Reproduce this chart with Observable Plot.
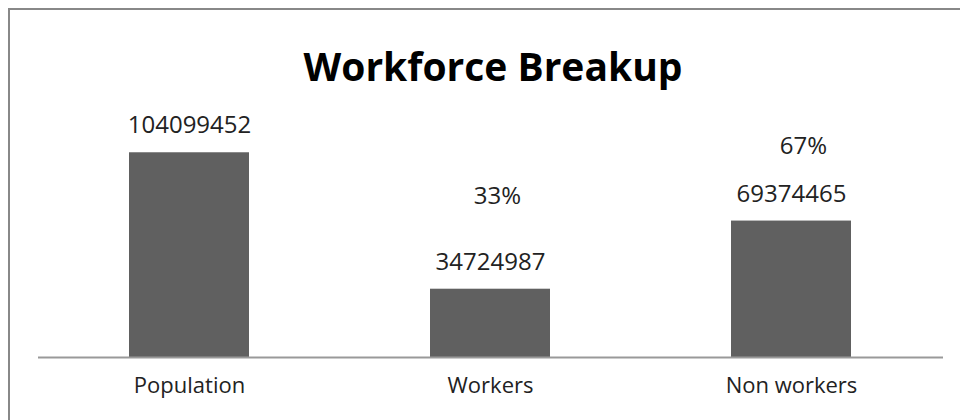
<!DOCTYPE html>
<html>
<head>
<meta charset="utf-8">
<script src="https://cdn.jsdelivr.net/npm/d3@7"></script>
<script src="https://cdn.jsdelivr.net/npm/@observablehq/plot@0.6"></script>
<style>
  html, body { margin: 0; padding: 0; background: #fff; }
  #wrap { position: relative; width: 960px; height: 420px; overflow: hidden; background: #fff; }
  #frame { position: absolute; left: 8px; top: 8px; width: 1000px; height: 500px; border: 2px solid #888; box-sizing: border-box; }
  #title { position: absolute; left: 243px; width: 500px; top: 46px; text-align: center;
           font: 700 39px/39px "Open Sans", sans-serif; color: #000; margin: 0; }
  #chart { position: absolute; left: 0; top: 0; }
</style>
</head>
<body>
<div id="wrap">
  <div id="frame"></div>
  <div id="chart"></div>
  <h1 id="title">Workforce Breakup</h1>
</div>
<script>
const categories = ["Population", "Workers", "Non workers"];
const values = [104099452, 34724987, 69374465];
const percentLabels = ["", "33%", "67%"];

const data = categories.map((c, i) => ({category: c, value: values[i], pct: percentLabels[i]}));

const textStyle = {fontSize: 24, fill: "#222", fontFamily: "Open Sans"};

const chart = Plot.plot({
  width: 960,
  height: 420,
  marginTop: 121,
  marginBottom: 63,
  marginLeft: 38,
  marginRight: 17,
  x: {domain: categories, paddingInner: 0.6, paddingOuter: 0.3},
  y: {domain: [0, 120000000], axis: null},
  style: {fontFamily: "Open Sans", fontSize: "24px", color: "#222", background: "transparent"},
  marks: [
    Plot.barY(data, {x: "category", y: "value", fill: "#606060"}),
    Plot.ruleY([0], {stroke: "#999", strokeWidth: 2}),
    Plot.axisX({tickSize: 0, tickPadding: 20, fontSize: 22, label: null, fill: "#222"}),
    Plot.text(data, {x: "category", y: "value", text: d => String(d.value), dy: -27, ...textStyle}),
    Plot.text(data.filter(d => d.category === "Workers"), {x: "category", y: "value", text: "pct", dy: -93, dx: 7, ...textStyle}),
    Plot.text(data.filter(d => d.category === "Non workers"), {x: "category", y: "value", text: "pct", dy: -75, dx: 12, ...textStyle})
  ]
});
document.getElementById("chart").appendChild(chart);
</script>
</body>
</html>
